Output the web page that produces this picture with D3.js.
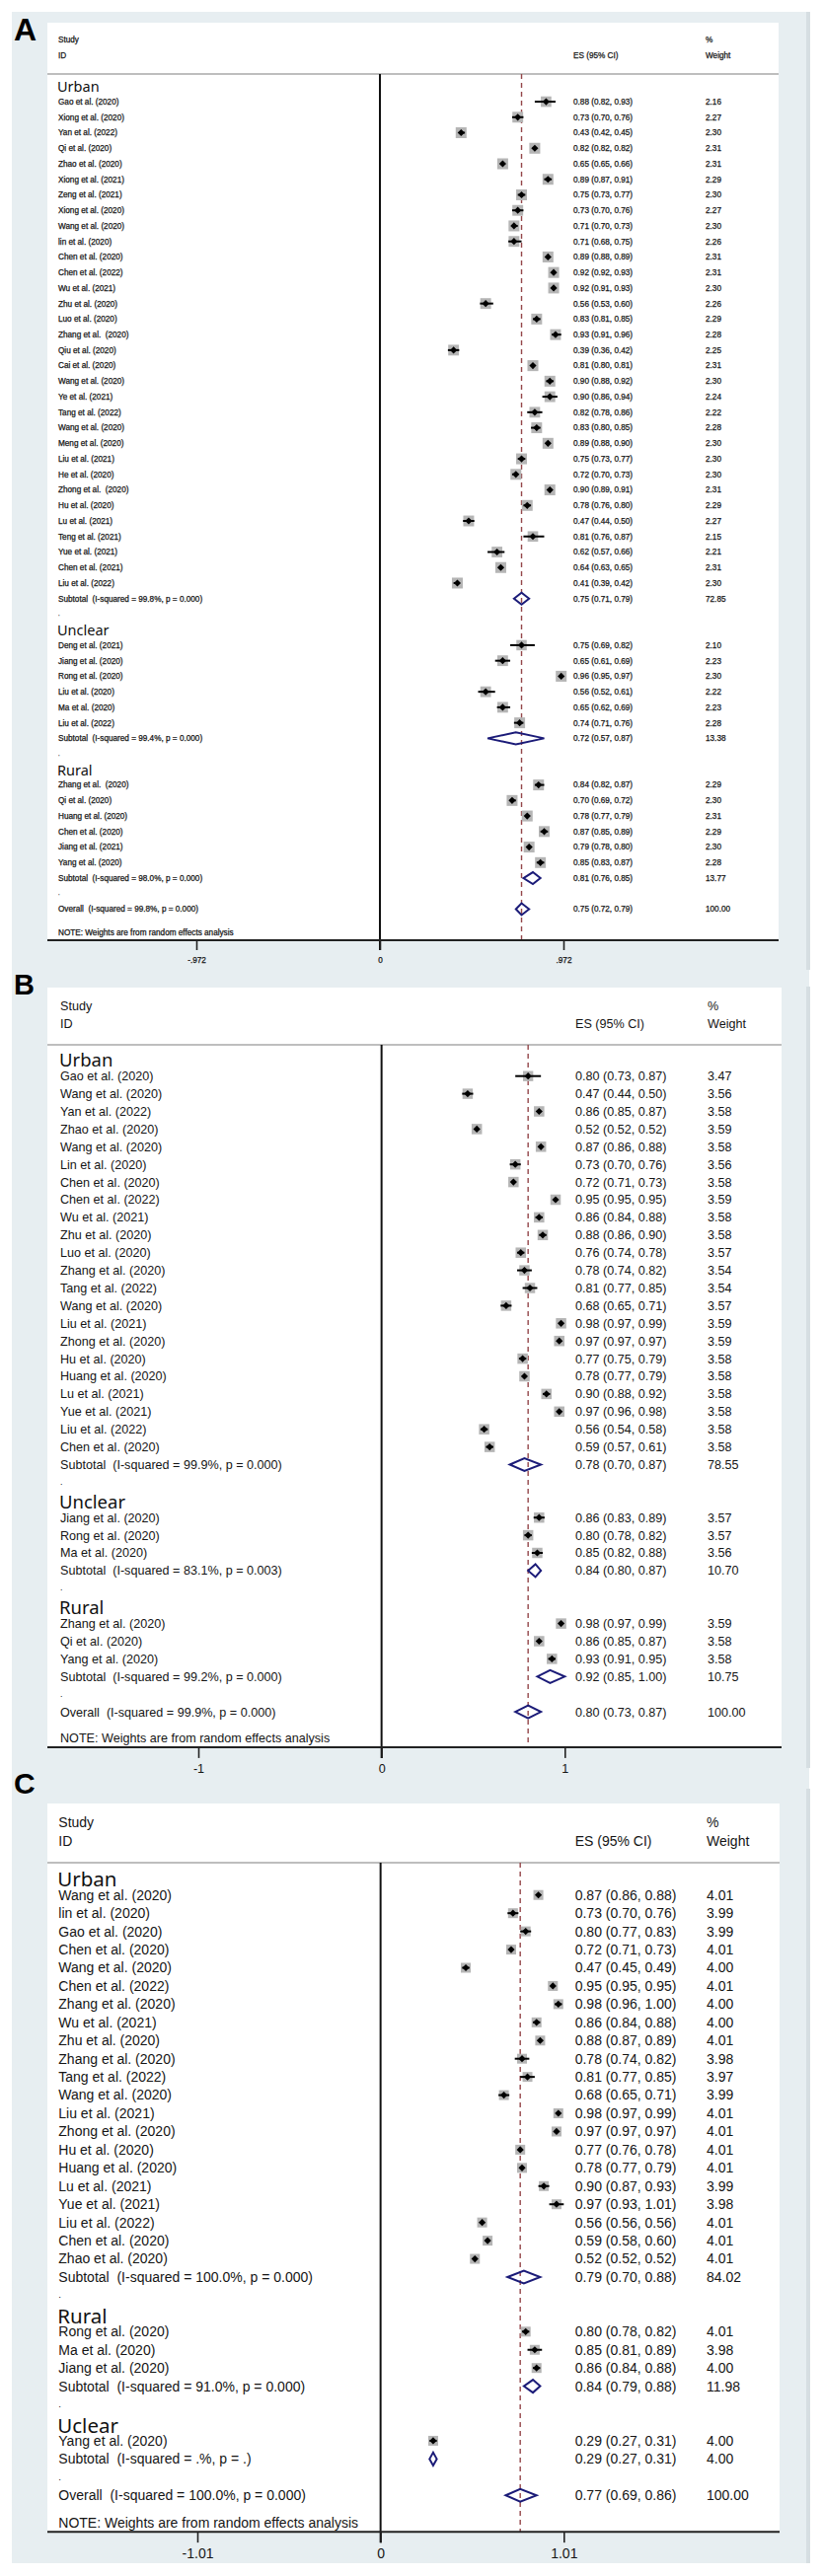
<!DOCTYPE html>
<html>
<head>
<meta charset="utf-8">
<script src="https://cdn.jsdelivr.net/npm/d3@7"></script>
<style>
  body { margin: 0; background: #fff; }
  svg text { font-family: "Liberation Sans", Arial, sans-serif; white-space: pre; fill: #151515; }
  svg text.grp { font-family: "Noto Sans", "DejaVu Sans", sans-serif; fill: #111; }
  svg text.letter { font-weight: bold; fill: #000; }
  svg g.heavy text { stroke: #151515; stroke-width: 0.25px; }
  svg g.heavy text.grp, svg g.heavy text.letter { stroke: none; }
</style>
</head>
<body>
<svg id="chart" width="834" height="2611"></svg>
<script>
// ---------- Panel A ----------
const aGroups = ["Urban", "Unclear", "Rural"];
const aGroupSize = [32, 6, 6];
const aStudies = ["Gao et al. (2020)", "Xiong et al. (2020)", "Yan et al. (2022)", "Qi et al. (2020)", "Zhao et al. (2020)",
  "Xiong et al. (2021)", "Zeng et al. (2021)", "Xiong et al. (2020)", "Wang et al. (2020)", "lin et al. (2020)",
  "Chen et al. (2020)", "Chen et al. (2022)", "Wu et al. (2021)", "Zhu et al. (2020)", "Luo et al. (2020)",
  "Zhang et al.  (2020)", "Qiu et al. (2020)", "Cai et al. (2020)", "Wang et al. (2020)", "Ye et al. (2021)",
  "Tang et al. (2022)", "Wang et al. (2020)", "Meng et al. (2020)", "Liu et al. (2021)", "He et al. (2020)",
  "Zhong et al.  (2020)", "Hu et al. (2020)", "Lu et al. (2021)", "Teng et al. (2021)", "Yue et al. (2021)",
  "Chen et al. (2021)", "Liu et al. (2022)",
  "Deng et al. (2021)", "Jiang et al. (2020)", "Rong et al. (2020)", "Liu et al. (2020)", "Ma et al. (2020)", "Liu et al. (2022)",
  "Zhang et al.  (2020)", "Qi et al. (2020)", "Huang et al. (2020)", "Chen et al. (2020)", "Jiang et al. (2021)", "Yang et al. (2020)"];
const aES = [0.88, 0.73, 0.43, 0.82, 0.65, 0.89, 0.75, 0.73, 0.71, 0.71, 0.89, 0.92, 0.92, 0.56, 0.83, 0.93, 0.39, 0.81, 0.90, 0.90,
  0.82, 0.83, 0.89, 0.75, 0.72, 0.90, 0.78, 0.47, 0.81, 0.62, 0.64, 0.41,
  0.75, 0.65, 0.96, 0.56, 0.65, 0.74,
  0.84, 0.70, 0.78, 0.87, 0.79, 0.85];
const aLo = [0.82, 0.70, 0.42, 0.82, 0.65, 0.87, 0.73, 0.70, 0.70, 0.68, 0.88, 0.92, 0.91, 0.53, 0.81, 0.91, 0.36, 0.80, 0.88, 0.86,
  0.78, 0.80, 0.88, 0.73, 0.70, 0.89, 0.76, 0.44, 0.76, 0.57, 0.63, 0.39,
  0.69, 0.61, 0.95, 0.52, 0.62, 0.71,
  0.82, 0.69, 0.77, 0.85, 0.78, 0.83];
const aHi = [0.93, 0.76, 0.45, 0.82, 0.66, 0.91, 0.77, 0.76, 0.73, 0.75, 0.89, 0.93, 0.93, 0.60, 0.85, 0.96, 0.42, 0.81, 0.92, 0.94,
  0.86, 0.85, 0.90, 0.77, 0.73, 0.91, 0.80, 0.50, 0.87, 0.66, 0.65, 0.42,
  0.82, 0.69, 0.97, 0.61, 0.69, 0.76,
  0.87, 0.72, 0.79, 0.89, 0.80, 0.87];
const aWeight = [2.16, 2.27, 2.30, 2.31, 2.31, 2.29, 2.30, 2.27, 2.30, 2.26, 2.31, 2.31, 2.30, 2.26, 2.29, 2.28, 2.25, 2.31, 2.30, 2.24,
  2.22, 2.28, 2.30, 2.30, 2.30, 2.31, 2.29, 2.27, 2.15, 2.21, 2.31, 2.30,
  2.10, 2.23, 2.30, 2.22, 2.23, 2.28,
  2.29, 2.30, 2.31, 2.29, 2.30, 2.28];
const aSubES = [0.75, 0.72, 0.81];
const aSubLo = [0.71, 0.57, 0.76];
const aSubHi = [0.79, 0.87, 0.85];
const aSubWeight = [72.85, 13.38, 13.77];
const aSubHet = ["I-squared = 99.8%, p = 0.000", "I-squared = 99.4%, p = 0.000", "I-squared = 98.0%, p = 0.000"];
const aOverall = [0.75, 0.72, 0.79];   // es, lo, hi
const aOverallHet = "I-squared = 99.8%, p = 0.000";
const aTicks = [-0.972, 0, 0.972];
const aTickLabels = ["-.972", "0", ".972"];

// ---------- Panel B ----------
const bGroups = ["Urban", "Unclear", "Rural"];
const bGroupSize = [22, 3, 3];
const bStudies = ["Gao et al. (2020)", "Wang et al. (2020)", "Yan et al. (2022)", "Zhao et al. (2020)", "Wang et al. (2020)",
  "Lin et al. (2020)", "Chen et al. (2020)", "Chen et al. (2022)", "Wu et al. (2021)", "Zhu et al. (2020)",
  "Luo et al. (2020)", "Zhang et al. (2020)", "Tang et al. (2022)", "Wang et al. (2020)", "Liu et al. (2021)",
  "Zhong et al. (2020)", "Hu et al. (2020)", "Huang et al. (2020)", "Lu et al. (2021)", "Yue et al. (2021)",
  "Liu et al. (2022)", "Chen et al. (2020)",
  "Jiang et al. (2020)", "Rong et al. (2020)", "Ma et al. (2020)",
  "Zhang et al. (2020)", "Qi et al. (2020)", "Yang et al. (2020)"];
const bES = [0.80, 0.47, 0.86, 0.52, 0.87, 0.73, 0.72, 0.95, 0.86, 0.88, 0.76, 0.78, 0.81, 0.68, 0.98, 0.97, 0.77, 0.78, 0.90, 0.97, 0.56, 0.59,
  0.86, 0.80, 0.85,
  0.98, 0.86, 0.93];
const bLo = [0.73, 0.44, 0.85, 0.52, 0.86, 0.70, 0.71, 0.95, 0.84, 0.86, 0.74, 0.74, 0.77, 0.65, 0.97, 0.97, 0.75, 0.77, 0.88, 0.96, 0.54, 0.57,
  0.83, 0.78, 0.82,
  0.97, 0.85, 0.91];
const bHi = [0.87, 0.50, 0.87, 0.52, 0.88, 0.76, 0.73, 0.95, 0.88, 0.90, 0.78, 0.82, 0.85, 0.71, 0.99, 0.97, 0.79, 0.79, 0.92, 0.98, 0.58, 0.61,
  0.89, 0.82, 0.88,
  0.99, 0.87, 0.95];
const bWeight = [3.47, 3.56, 3.58, 3.59, 3.58, 3.56, 3.58, 3.59, 3.58, 3.58, 3.57, 3.54, 3.54, 3.57, 3.59, 3.59, 3.58, 3.58, 3.58, 3.58, 3.58, 3.58,
  3.57, 3.57, 3.56,
  3.59, 3.58, 3.58];
const bSubES = [0.78, 0.84, 0.92];
const bSubLo = [0.70, 0.80, 0.85];
const bSubHi = [0.87, 0.87, 1.00];
const bSubWeight = [78.55, 10.70, 10.75];
const bSubHet = ["I-squared = 99.9%, p = 0.000", "I-squared = 83.1%, p = 0.003", "I-squared = 99.2%, p = 0.000"];
const bOverall = [0.80, 0.73, 0.87];
const bOverallHet = "I-squared = 99.9%, p = 0.000";
const bTicks = [-1, 0, 1];
const bTickLabels = ["-1", "0", "1"];

// ---------- Panel C ----------
const cGroups = ["Urban", "Rural", "Uclear"];
const cGroupSize = [21, 3, 1];
const cStudies = ["Wang et al. (2020)", "lin et al. (2020)", "Gao et al. (2020)", "Chen et al. (2020)", "Wang et al. (2020)",
  "Chen et al. (2022)", "Zhang et al. (2020)", "Wu et al. (2021)", "Zhu et al. (2020)", "Zhang et al. (2020)",
  "Tang et al. (2022)", "Wang et al. (2020)", "Liu et al. (2021)", "Zhong et al. (2020)", "Hu et al. (2020)",
  "Huang et al. (2020)", "Lu et al. (2021)", "Yue et al. (2021)", "Liu et al. (2022)", "Chen et al. (2020)", "Zhao et al. (2020)",
  "Rong et al. (2020)", "Ma et al. (2020)", "Jiang et al. (2020)",
  "Yang et al. (2020)"];
const cES = [0.87, 0.73, 0.80, 0.72, 0.47, 0.95, 0.98, 0.86, 0.88, 0.78, 0.81, 0.68, 0.98, 0.97, 0.77, 0.78, 0.90, 0.97, 0.56, 0.59, 0.52,
  0.80, 0.85, 0.86,
  0.29];
const cLo = [0.86, 0.70, 0.77, 0.71, 0.45, 0.95, 0.96, 0.84, 0.87, 0.74, 0.77, 0.65, 0.97, 0.97, 0.76, 0.77, 0.87, 0.93, 0.56, 0.58, 0.52,
  0.78, 0.81, 0.84,
  0.27];
const cHi = [0.88, 0.76, 0.83, 0.73, 0.49, 0.95, 1.00, 0.88, 0.89, 0.82, 0.85, 0.71, 0.99, 0.97, 0.78, 0.79, 0.93, 1.01, 0.56, 0.60, 0.52,
  0.82, 0.89, 0.88,
  0.31];
const cWeight = [4.01, 3.99, 3.99, 4.01, 4.00, 4.01, 4.00, 4.00, 4.01, 3.98, 3.97, 3.99, 4.01, 4.01, 4.01, 4.01, 3.99, 3.98, 4.01, 4.01, 4.01,
  4.01, 3.98, 4.00,
  4.00];
const cSubES = [0.79, 0.84, 0.29];
const cSubLo = [0.70, 0.79, 0.27];
const cSubHi = [0.88, 0.88, 0.31];
const cSubWeight = [84.02, 11.98, 4.00];
const cSubHet = ["I-squared = 100.0%, p = 0.000", "I-squared = 91.0%, p = 0.000", "I-squared = .%, p = ."];
const cOverall = [0.77, 0.69, 0.86];
const cOverallHet = "I-squared = 100.0%, p = 0.000";
const cTicks = [-1.01, 0, 1.01];
const cTickLabels = ["-1.01", "0", "1.01"];

const panels = [
  { letter: "A", heavy: true, groups: aGroups, sizes: aGroupSize, studies: aStudies, es: aES, lo: aLo, hi: aHi, wt: aWeight,
    subEs: aSubES, subLo: aSubLo, subHi: aSubHi, subWt: aSubWeight, subHet: aSubHet,
    overall: aOverall, overallHet: aOverallHet, ticks: aTicks, tickLabels: aTickLabels,
    lay: { letterY: 41, letterSize: 32, white: 23, right: 789, sep: 75, row0: 87.3, step: 15.74, range: [199, 571],
           font: 8.2, head: 14.5, headDy: 1, labelX: 59, esX: 581, wtX: 715, box: [2.3, 11], mk: 3.6, dh: 6, tick: 10, tickGap: 20 } },
  { letter: "B", heavy: false, groups: bGroups, sizes: bGroupSize, studies: bStudies, es: bES, lo: bLo, hi: bHi, wt: bWeight,
    subEs: bSubES, subLo: bSubLo, subHi: bSubHi, subWt: bSubWeight, subHet: bSubHet,
    overall: bOverall, overallHet: bOverallHet, ticks: bTicks, tickLabels: bTickLabels,
    lay: { letterY: 1008, letterSize: 29, white: 1001, right: 792, sep: 1059, row0: 1072.8, step: 17.9, range: [201, 572.3],
           font: 12.6, head: 18.5, headDy: 2, labelX: 61, esX: 583, wtX: 717, box: [3.58, 10.5], mk: 3.6, dh: 6.5, tick: 11, tickGap: 22 } },
  { letter: "C", heavy: false, groups: cGroups, sizes: cGroupSize, studies: cStudies, es: cES, lo: cLo, hi: cHi, wt: cWeight,
    subEs: cSubES, subLo: cSubLo, subHi: cSubHi, subWt: cSubWeight, subHet: cSubHet,
    overall: cOverall, overallHet: cOverallHet, ticks: cTicks, tickLabels: cTickLabels,
    lay: { letterY: 1818, letterSize: 30, white: 1828, right: 790, sep: 1888, row0: 1902.3, step: 18.44, range: [200, 571.3],
           font: 14, head: 20.5, headDy: 3, labelX: 59.3, esX: 582.7, wtX: 716, box: [4.0, 10], mk: 3.6, dh: 6.5, tick: 11, tickGap: 22 } }
];

const f2 = d3.format(".2f");
const svg = d3.select("#chart");

// light figure background
svg.append("rect").attr("x", 12).attr("y", 12).attr("width", 808).attr("height", 2586).attr("fill", "#e7eef1");
[[12, 983], [1000, 1792], [1813, 2598]].forEach(([y0, y1]) => {
  svg.append("rect").attr("x", 817).attr("y", y0).attr("width", 4).attr("height", y1 - y0).attr("fill", "#d6dee2");
});

function buildRows(p) {
  const rows = [];
  let r = 0, k = 0;
  p.groups.forEach((g, gi) => {
    rows.push({ type: "head", label: g, r: r++ });
    for (let j = 0; j < p.sizes[gi]; j++, k++) {
      rows.push({ type: "study", label: p.studies[k], es: p.es[k], lo: p.lo[k], hi: p.hi[k], wt: p.wt[k], r: r++ });
    }
    rows.push({ type: "sub", label: "Subtotal  (" + p.subHet[gi] + ")", es: p.subEs[gi], lo: p.subLo[gi], hi: p.subHi[gi], wt: p.subWt[gi], r: r++ });
    rows.push({ type: "dot", label: ".", r: r++ });
  });
  rows.push({ type: "overall", label: "Overall  (" + p.overallHet + ")", es: p.overall[0], lo: p.overall[1], hi: p.overall[2], wt: 100, r: r++ });
  return rows;
}

panels.forEach(p => {
  const L = p.lay;
  const rows = buildRows(p);
  const last = rows[rows.length - 1].r;
  const y = d3.scaleLinear().domain([0, 1]).range([L.row0, L.row0 + L.step]);
  const x = d3.scaleLinear().domain([p.ticks[0], p.ticks[2]]).range(L.range);
  const box = d3.scaleSqrt().domain([0, L.box[0]]).range([0, L.box[1]]);
  const axisY = y(last + 2);
  const g = svg.append("g").attr("class", p.heavy ? "heavy" : null);

  // white plot area
  g.append("rect").attr("x", 48).attr("y", L.white).attr("width", L.right - 48).attr("height", axisY - L.white).attr("fill", "#fff");

  // panel letter
  g.append("text").attr("class", "letter").attr("x", 14).attr("y", L.letterY)
    .style("font-size", L.letterSize + "px").text(p.letter);

  // column headers
  const hTop = L.sep - 2.2 * L.step, hBot = L.sep - 1.2 * L.step;
  const fs = L.font + "px";
  [["Study", L.labelX, hTop], ["ID", L.labelX, hBot], ["ES (95% CI)", L.esX, hBot], ["%", L.wtX, hTop], ["Weight", L.wtX, hBot]]
    .forEach(([t, tx, ty]) => g.append("text").attr("x", tx).attr("y", ty).attr("dy", "0.35em").style("font-size", fs).text(t));

  g.append("line").attr("x1", 48).attr("x2", L.right).attr("y1", L.sep).attr("y2", L.sep)
    .attr("stroke", "#a9a9a9").attr("stroke-width", 1.5);

  // zero line
  g.append("line").attr("x1", x(0)).attr("x2", x(0)).attr("y1", L.sep).attr("y2", axisY + L.tick)
    .attr("stroke", "#111").attr("stroke-width", 2);

  // overall effect dashed line
  g.append("line").attr("x1", x(p.overall[0])).attr("x2", x(p.overall[0])).attr("y1", L.sep).attr("y2", axisY)
    .attr("stroke", "#94474a").attr("stroke-width", 1.4).attr("stroke-dasharray", "5,4");

  const studies = rows.filter(d => d.type === "study");
  const pooled = rows.filter(d => d.type === "sub" || d.type === "overall");

  // weight boxes
  g.selectAll("rect.box").data(studies).join("rect").attr("class", "box")
    .attr("x", d => x(d.es) - box(d.wt) / 2).attr("y", d => y(d.r) - box(d.wt) / 2)
    .attr("width", d => box(d.wt)).attr("height", d => box(d.wt)).attr("fill", "#b5b5b5");

  // CI lines
  g.selectAll("line.ci").data(studies).join("line").attr("class", "ci")
    .attr("x1", d => x(d.lo)).attr("x2", d => x(d.hi)).attr("y1", d => y(d.r)).attr("y2", d => y(d.r))
    .attr("stroke", "#000").attr("stroke-width", 2);

  // point markers
  g.selectAll("path.pt").data(studies).join("path").attr("class", "pt")
    .attr("d", d => {
      const cx = x(d.es), cy = y(d.r), m = L.mk;
      return `M${cx - m},${cy}L${cx},${cy - m}L${cx + m},${cy}L${cx},${cy + m}Z`;
    }).attr("fill", "#000");

  // pooled diamonds
  g.selectAll("path.dia").data(pooled).join("path").attr("class", "dia")
    .attr("d", d => {
      const cy = y(d.r);
      return `M${x(d.lo)},${cy}L${x(d.es)},${cy - L.dh}L${x(d.hi)},${cy}L${x(d.es)},${cy + L.dh}Z`;
    }).attr("fill", "none").attr("stroke", "#1b1b78").attr("stroke-width", 2).attr("stroke-linejoin", "miter");

  // left labels
  rows.forEach(d => {
    if (d.type === "head") {
      g.append("text").attr("class", "grp").attr("x", L.labelX - 1).attr("y", y(d.r) + L.headDy).attr("dy", "0.35em")
        .style("font-size", L.head + "px").text(d.label);
    } else if (d.type === "dot") {
      // small separator dot, kept low-profile so it does not collide with the next header
      g.append("text").attr("x", L.labelX).attr("y", y(d.r) + 0.2 * L.font)
        .style("font-size", (0.7 * L.font) + "px").text(d.label);
    } else {
      g.append("text").attr("x", L.labelX).attr("y", y(d.r)).attr("dy", "0.35em").style("font-size", fs).text(d.label);
    }
    if (d.es !== undefined) {
      g.append("text").attr("x", L.esX).attr("y", y(d.r)).attr("dy", "0.35em").style("font-size", fs)
        .text(`${f2(d.es)} (${f2(d.lo)}, ${f2(d.hi)})`);
      g.append("text").attr("x", L.wtX).attr("y", y(d.r)).attr("dy", "0.35em").style("font-size", fs).text(f2(d.wt));
    }
  });

  g.append("text").attr("x", L.labelX).attr("y", y(last + 1.5)).attr("dy", "0.35em").style("font-size", fs)
    .text("NOTE: Weights are from random effects analysis");

  // x axis
  const axis = d3.axisBottom(x).tickValues(p.ticks).tickSize(L.tick)
    .tickFormat((d, i) => p.tickLabels[i]);
  const ax = g.append("g").attr("transform", `translate(0,${axisY})`).call(axis);
  ax.select(".domain").remove();
  ax.selectAll(".tick line").attr("stroke", "#222").attr("stroke-width", 1.6);
  ax.selectAll(".tick text").attr("y", L.tickGap).attr("dy", "0.35em")
    .style("font-size", fs).style("font-family", '"Liberation Sans", Arial, sans-serif').attr("fill", "#151515");
  g.append("line").attr("x1", 48).attr("x2", L.right).attr("y1", axisY).attr("y2", axisY)
    .attr("stroke", "#222").attr("stroke-width", 2);
});
</script>
</body>
</html>
